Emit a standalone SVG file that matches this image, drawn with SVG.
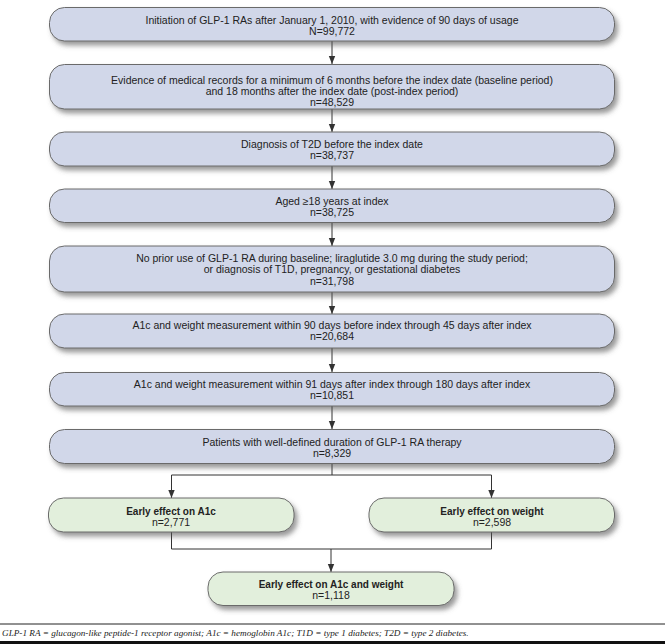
<svg xmlns="http://www.w3.org/2000/svg" width="665" height="644" viewBox="0 0 665 644">
<defs>
<filter id="sh" x="-10%" y="-30%" width="125%" height="180%">
<feDropShadow dx="3" dy="4" stdDeviation="2.5" flood-color="#555" flood-opacity="0.6"/>
</filter>
<marker id="ah" viewBox="0 0 8 8" refX="8" refY="4" markerWidth="8" markerHeight="8" markerUnits="userSpaceOnUse" orient="auto">
<path d="M0,0.8 L8,4 L0,7.2 Z" fill="#333"/>
</marker>
<style>
.b{fill:#d1d7e9;stroke:#6b6b6b;stroke-width:1;filter:url(#sh)}
.g{fill:#e2efdc;stroke:#6b6b6b;stroke-width:1;filter:url(#sh)}
text{font-family:"Liberation Sans",Arial,sans-serif;font-size:10.5px;fill:#222;text-anchor:middle}
.bd{font-weight:bold;font-size:10px}
.c{fill:none;stroke:#333;stroke-width:1}
.ft{font-family:"Liberation Serif","Times New Roman",serif;font-style:italic;font-size:9.2px;text-anchor:start}
</style>
</defs>
<rect width="665" height="644" fill="#fff"/>

<g id="connectors">
<line class="c" x1="332" y1="41" x2="332" y2="64" marker-end="url(#ah)"/>
<line class="c" x1="332" y1="109" x2="332" y2="132" marker-end="url(#ah)"/>
<line class="c" x1="332" y1="166" x2="332" y2="189" marker-end="url(#ah)"/>
<line class="c" x1="332" y1="222" x2="332" y2="246" marker-end="url(#ah)"/>
<line class="c" x1="332" y1="292" x2="332" y2="314" marker-end="url(#ah)"/>
<line class="c" x1="332" y1="348" x2="332" y2="372" marker-end="url(#ah)"/>
<line class="c" x1="332" y1="406" x2="332" y2="429" marker-end="url(#ah)"/>
<polyline class="c" points="332,464 332,475 171.5,475 171.5,498" marker-end="url(#ah)"/>
<polyline class="c" points="332,475 491.5,475 491.5,498" marker-end="url(#ah)"/>
<polyline class="c" points="171.5,532 171.5,549 491.5,549 491.5,532"/>
<line class="c" x1="331" y1="549" x2="331" y2="572" marker-end="url(#ah)"/>
</g>

<g id="n1">
<rect class="b" x="49.5" y="7.5" width="565" height="33.5" rx="15"/>
<text x="332" y="23.5">Initiation of GLP-1 RAs after January 1, 2010, with evidence of 90 days of usage</text>
<text x="332" y="34.5">N=99,772</text>
</g>
<g id="n2">
<rect class="b" x="49.5" y="64.5" width="565" height="44.5" rx="15"/>
<text x="332" y="84">Evidence of medical records for a minimum of 6 months before the index date (baseline period)</text>
<text x="332" y="95">and 18 months after the index date (post-index period)</text>
<text x="332" y="106">n=48,529</text>
</g>
<g id="n3">
<rect class="b" x="49.5" y="132" width="565" height="34" rx="15"/>
<text x="332" y="148">Diagnosis of T2D before the index date</text>
<text x="332" y="159">n=38,737</text>
</g>
<g id="n4">
<rect class="b" x="49.5" y="189" width="565" height="33.5" rx="15"/>
<text x="332" y="204.5">Aged ≥18 years at index</text>
<text x="332" y="215.5">n=38,725</text>
</g>
<g id="n5">
<rect class="b" x="49.5" y="246" width="565" height="46" rx="15"/>
<text x="332" y="261.5">No prior use of GLP-1 RA during baseline; liraglutide 3.0 mg during the study period;</text>
<text x="332" y="273">or diagnosis of T1D, pregnancy, or gestational diabetes</text>
<text x="332" y="284.5">n=31,798</text>
</g>
<g id="n6">
<rect class="b" x="49.5" y="314" width="565" height="34" rx="15"/>
<text x="332" y="328.5">A1c and weight measurement within 90 days before index through 45 days after index</text>
<text x="332" y="340">n=20,684</text>
</g>
<g id="n7">
<rect class="b" x="49.5" y="372.5" width="565" height="33.5" rx="15"/>
<text x="332" y="387.5">A1c and weight measurement within 91 days after index through 180 days after index</text>
<text x="332" y="399">n=10,851</text>
</g>
<g id="n8">
<rect class="b" x="49.5" y="429.5" width="565" height="34" rx="15"/>
<text x="332" y="445.5">Patients with well-defined duration of GLP-1 RA therapy</text>
<text x="332" y="456.5">n=8,329</text>
</g>
<g id="n9">
<rect class="g" x="48.5" y="498" width="245.5" height="34" rx="15"/>
<text class="bd" x="171" y="514.5">Early effect on A1c</text>
<text x="171" y="525.5">n=2,771</text>
</g>
<g id="n10">
<rect class="g" x="369" y="498" width="245.5" height="34" rx="15"/>
<text class="bd" x="492" y="514.5">Early effect on weight</text>
<text x="492" y="525.5">n=2,598</text>
</g>
<g id="n11">
<rect class="g" x="208" y="572" width="246" height="33.5" rx="15"/>
<text class="bd" x="331" y="587.5">Early effect on A1c and weight</text>
<text x="331" y="599">n=1,118</text>
</g>

<line x1="0" y1="624" x2="665" y2="624" stroke="#222" stroke-width="1"/>
<text class="ft" x="2" y="636">GLP-1 RA = glucagon-like peptide-1 receptor agonist; A1c = hemoglobin A1c; T1D = type 1 diabetes; T2D = type 2 diabetes.</text>
<rect x="0" y="641" width="665" height="3" fill="#111"/>
</svg>
